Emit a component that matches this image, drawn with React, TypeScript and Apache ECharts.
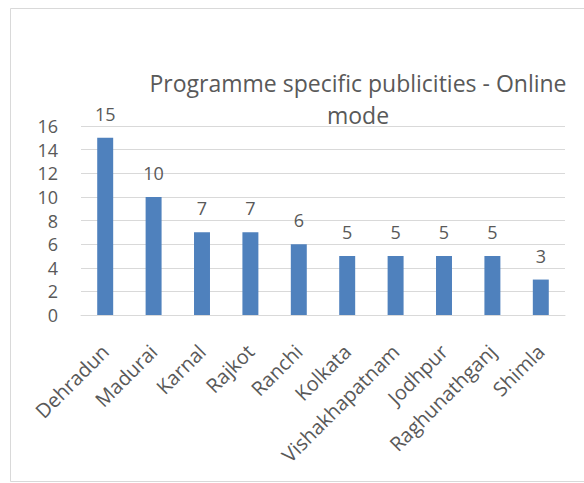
import React, { useEffect, useRef } from "react";
import * as echarts from "echarts";

const categories = ["Dehradun", "Madurai", "Karnal", "Rajkot", "Ranchi", "Kolkata", "Vishakhapatnam", "Jodhpur", "Raghunathganj", "Shimla"];
const values = [15, 10, 7, 7, 6, 5, 5, 5, 5, 3];
const titleText = "Programme specific publicities - Online\nmode";

const FONT = "'Open Sans', sans-serif";
const TXT = "#595959";

export default function App() {
  const ref = useRef<HTMLDivElement>(null);
  useEffect(() => {
    if (!ref.current) return;
    const chart = echarts.init(ref.current, null, { renderer: "svg" });
    chart.setOption({
      animation: false,
      backgroundColor: "#ffffff",
      graphic: [
        {
          type: "rect",
          shape: { x: 10.5, y: 8.5, width: 600, height: 473 },
          style: { fill: "none", stroke: "#d9d9d9", lineWidth: 1 },
          silent: true,
        },
      ],
      title: {
        text: titleText,
        left: 353,
        top: 62,
        textAlign: "center",
        textStyle: { fontFamily: FONT, fontSize: 23, fontWeight: "normal", color: TXT, lineHeight: 32 },
      },
      grid: { left: 81, right: 19, top: 126, bottom: 168, containLabel: false },
      xAxis: {
        type: "category",
        data: categories,
        axisLine: { lineStyle: { color: "#d9d9d9", width: 1 } },
        axisTick: { show: false },
        axisLabel: { rotate: 45, fontFamily: FONT, fontSize: 20, color: TXT, margin: 33, interval: 0 },
      },
      yAxis: {
        type: "value",
        min: 0,
        max: 16,
        interval: 2,
        axisLine: { show: false },
        axisTick: { show: false },
        splitLine: { lineStyle: { color: "#d9d9d9", width: 1 } },
        axisLabel: { fontFamily: FONT, fontSize: 18, color: TXT, margin: 23 },
      },
      series: [
        {
          type: "bar",
          data: values,
          barWidth: "33%",
          itemStyle: { color: "#4f81bd" },
          label: { show: true, position: "top", distance: 15, fontFamily: FONT, fontSize: 18, color: TXT },
        },
      ],
    });
    return () => chart.dispose();
  }, []);
  return <div ref={ref} style={{ position: "fixed", left: 0, top: 0, width: 584, height: 483 }} />;
}
